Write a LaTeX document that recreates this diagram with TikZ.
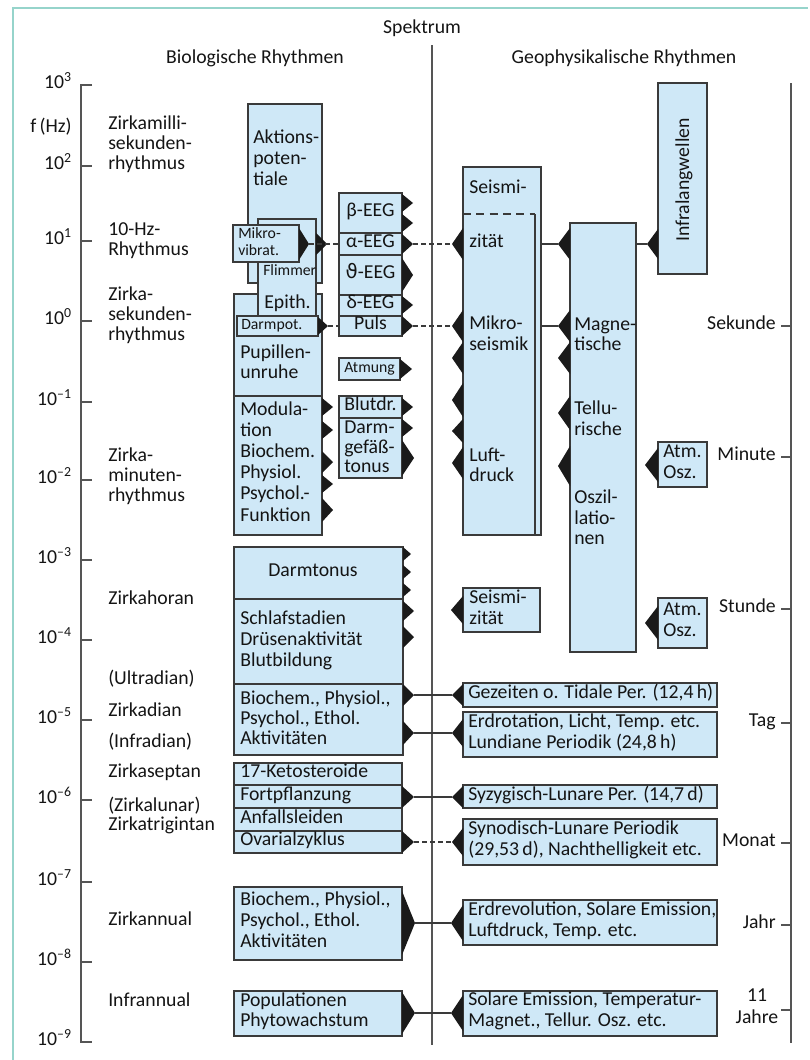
\documentclass[tikz,border=0pt]{standalone}
\usepackage{fontspec}
\setmainfont{Carlito}
\newfontfamily\dejavu{DejaVu Sans}
\usetikzlibrary{fit}
\definecolor{boxfill}{HTML}{CFE8F7}
\definecolor{boxline}{HTML}{3A3A3A}
\definecolor{framec}{HTML}{96D4CB}
\definecolor{axisc}{HTML}{555555}
\definecolor{txt}{HTML}{141414}
\definecolor{tric}{HTML}{1A1A1A}
\tikzset{
  box/.style={draw=boxline, fill=boxfill, line width=1pt, inner sep=0pt},
  lbl/.style={font=\fontsize{14.8}{15.5}\selectfont, text=txt, inner sep=0pt},
  sml/.style={font=\fontsize{11.8}{12.5}\selectfont, text=txt, inner sep=0pt},
  conn/.style={draw=boxline, line width=0.8pt},
  dconn/.style={conn, dash pattern=on 3.5pt off 2.5pt},
  axisline/.style={draw=axisc, line width=1.1pt},
}
\newcommand\bx[5]{\node[box, fit={(#2,#3) (#4,#5)}] (#1) {};}
\newcommand\tri[5]{\fill[tric] (#2,#3) ++(0,#5) -- ++(#4,{-1*(#5)}) -- ++({-1*(#4)},{-1*(#5)}) -- cycle;
  \path (#2,#3) ++(#4,0) coordinate (#1);}
\newcommand\Tx[4]{\node[lbl, anchor=mid west] (#1) at (#2,#3) {#4};}
\newcommand\Ts[4]{\node[sml, anchor=mid west] (#1) at (#2,#3) {#4};}
\begin{document}
\begin{tikzpicture}[x=0.75pt,y=-0.75pt]
\useasboundingbox (0,0) rectangle (810,1060);
\draw[framec, line width=1.5pt] (13,1060) -- (13,8) -- (808,8);

% headings
\node[lbl, anchor=mid] (spek) at (422,30) {Spektrum};
\node[lbl, anchor=mid] (biohead) at (255,60) {Biologische Rhythmen};
\node[lbl, anchor=mid] (geohead) at (624,60) {Geophysikalische Rhythmen};

% axes
\draw[axisline] (92,85) -- (81,85) -- (81,1042) -- (92,1042);
\foreach \y in {166,241,321,402,480,560,640,720,800,882,962} \draw[axisline] (81,\y) -- (92,\y);
\foreach \y/\e in {85/3,166/2,241/1,321/0,402/–1,480/–2,560/–3,640/–4,720/–5,800/–6,882/–7,962/–8,1042/–9}
  \node[lbl, anchor=mid east] (ax\y) at (72,\y) {10\textsuperscript{\e}};
\node[lbl, anchor=mid east] (fhz) at (72,129) {f\,(Hz)};
\draw[axisline] (791,83) -- (791,1043);
\foreach \y in {326,457,609,723,843,925,1010} \draw[axisline] (781,\y) -- (791,\y);
\draw[axisline] (432,45) -- (432,1045);

% left rhythm names
\Tx{r1}{108}{126}{Zirkamilli-}
\Tx{r2}{108}{146}{sekunden-}
\Tx{r3}{108}{166}{rhythmus}
\Tx{r4}{108}{232}{10-Hz-}
\Tx{r5}{108}{252}{Rhythmus}
\Tx{r6}{108}{297}{Zirka-}
\Tx{r7}{108}{317}{sekunden-}
\Tx{r8}{108}{337}{rhythmus}
\Tx{r9}{108}{458}{Zirka-}
\Tx{r10}{108}{478}{minuten-}
\Tx{r11}{108}{498}{rhythmus}
\Tx{r12}{108}{601}{Zirkahoran}
\Tx{r13}{108}{681}{(Ultradian)}
\Tx{r14}{108}{713}{Zirkadian}
\Tx{r15}{108}{744}{(Infradian)}
\Tx{r16}{108}{774}{Zirkaseptan}
\Tx{r17}{108}{808}{(Zirkalunar)}
\Tx{r18}{108}{827}{Zirkatrigintan}
\Tx{r19}{108}{922}{Zirkannual}
\Tx{r20}{108}{1003}{Infrannual}

% right time names
\node[lbl, anchor=mid east] (sek) at (776,326) {Sekunde};
\node[lbl, anchor=mid east] (minu) at (776,457) {Minute};
\node[lbl, anchor=mid east] (stu) at (776,609) {Stunde};
\node[lbl, anchor=mid east] (tag) at (776,723) {Tag};
\node[lbl, anchor=mid east] (mon) at (776,843) {Monat};
\node[lbl, anchor=mid east] (jahr) at (776,925) {Jahr};
\node[lbl, anchor=mid] (elf) at (757,998) {11};
\node[lbl, anchor=mid] (jahre) at (757,1020) {Jahre};

% biological boxes
\bx{akt}{248}{104}{322}{283}
\bx{pup}{234}{294}{322}{396}
\bx{flim}{258}{219}{316}{330}
\bx{darmp}{237}{316}{318}{336}
\bx{mikro}{233}{225}{299}{262}
\bx{mod}{234}{396}{322}{535}
\bx{beta}{339}{193}{402}{233}
\bx{alpha}{339}{233}{402}{255}
\bx{theta}{339}{255}{402}{295}
\bx{delta}{339}{295}{402}{316}
\bx{puls}{339}{316}{402}{336}
\bx{atm}{339}{358}{400}{380}
\bx{blut}{339}{396}{402}{418}
\bx{darmg}{339}{418}{402}{478}
\bx{darmt}{234}{547}{403}{599}
\bx{schlaf}{234}{599}{403}{684}
\bx{bioc}{234}{684}{403}{755}
\bx{keto}{234}{763}{402}{785}
\bx{fort}{234}{785}{402}{808}
\bx{anfall}{234}{808}{402}{831}
\bx{ovar}{234}{831}{402}{853}
\bx{bioa}{234}{887}{402}{960}
\bx{popu}{234}{991}{402}{1036}

% geophysical boxes
\bx{seis}{463}{167}{541}{535}
\draw[boxline, line width=1pt, dash pattern=on 6pt off 4pt] (463,214) -- (535,214);
\draw[boxline, line width=1pt] (535,214) -- (535,535);
\bx{mag}{570}{223}{636}{652}
\bx{infra}{658}{83}{707}{274}
\bx{atmo1}{658}{442}{707}{487}
\bx{atmo2}{658}{598}{707}{648}
\bx{seisk}{463}{588}{540}{632}
\bx{gez}{463}{683}{717}{707}
\bx{erd}{463}{712}{717}{757}
\bx{syz}{463}{785}{717}{808}
\bx{syn}{463}{819}{717}{865}
\bx{rev}{463}{900}{717}{945}
\bx{sol}{463}{991}{717}{1036}

% texts in biological boxes
\Tx{a1}{253}{140}{Aktions-}
\Tx{a2}{253}{161}{poten-}
\Tx{a3}{253}{182}{tiale}
\Ts{mk1}{238}{235}{Mikro-}
\Ts{mk2}{238}{252}{vibrat.}
\Ts{fl1}{263}{272}{Flimmer}
\Tx{fl2}{264}{305}{Epith.}
\Ts{dp1}{241}{326}{Darmpot.}
\Tx{p1}{240}{355}{Pupillen-}
\Tx{p2}{240}{375}{unruhe}
\Tx{m1}{240}{412}{Modula-}
\Tx{m2}{240}{433}{tion}
\Tx{m3}{240}{454}{Biochem.}
\Tx{m4}{240}{475}{Physiol.}
\Tx{m5}{240}{496}{Psychol.-}
\Tx{m6}{240}{518}{Funktion}
\node[lbl, anchor=mid] (e1) at (370.5,213) {β-EEG};
\node[lbl, anchor=mid] (e2) at (370.5,244) {α-EEG};
\node[lbl, anchor=mid] (e3) at (370.5,275) {{\dejavu ϑ}-EEG};
\node[lbl, anchor=mid] (e4) at (370.5,305) {δ-EEG};
\node[lbl, anchor=mid] (e5) at (370.5,326) {Puls};
\node[sml, anchor=mid] (e6) at (369.5,369) {Atmung};
\Tx{b1}{344}{407}{Blutdr.}
\Tx{b2}{344}{430}{Darm-}
\Tx{b3}{344}{450}{gefäß-}
\Tx{b4}{344}{469}{tonus}
\node[lbl, anchor=mid] (dt) at (313,573) {Darmtonus};
\Tx{s1}{240}{621}{Schlafstadien}
\Tx{s2}{240}{642}{Drüsenaktivität}
\Tx{s3}{240}{663}{Blutbildung}
\Tx{c1}{240}{701}{Biochem., Physiol.,}
\Tx{c2}{240}{721}{Psychol., Ethol.}
\Tx{c3}{240}{741}{Aktivitäten}
\Tx{k1}{240}{774}{17-Ketosteroide}
\Tx{k2}{240}{797}{Fortpflanzung}
\Tx{k3}{240}{820}{Anfallsleiden}
\Tx{k4}{240}{842}{Ovarialzyklus}
\Tx{n1}{240}{902}{Biochem., Physiol.,}
\Tx{n2}{240}{923}{Psychol., Ethol.}
\Tx{n3}{240}{944}{Aktivitäten}
\Tx{q1}{240}{1003}{Populationen}
\Tx{q2}{240}{1023}{Phytowachstum}

% texts in geophysical boxes
\Tx{g1}{469}{190}{Seismi-}
\Tx{g2}{469}{244}{zität}
\Tx{g3}{469}{326}{Mikro-}
\Tx{g4}{469}{347}{seismik}
\Tx{g5}{469}{458}{Luft-}
\Tx{g6}{469}{478}{druck}
\Tx{h1}{574}{327}{Magne-}
\Tx{h2}{574}{347}{tische}
\Tx{h3}{574}{411}{Tellu-}
\Tx{h4}{574}{432}{rische}
\Tx{h5}{574}{500}{Oszil-}
\Tx{h6}{574}{521}{latio-}
\Tx{h7}{574}{541}{nen}
\node[lbl, rotate=90, anchor=mid] (tinf) at (686,180) {Infralangwellen};
\Tx{o1}{663}{454}{Atm.}
\Tx{o2}{663}{475}{Osz.}
\Tx{o3}{663}{612}{Atm.}
\Tx{o4}{663}{633}{Osz.}
\Tx{z1}{469}{600}{Seismi-}
\Tx{z2}{469}{621}{zität}
\Tx{w1}{468}{695}{Gezeiten o. Tidale Per. (12,4\,h)}
\Tx{w2}{468}{724}{Erdrotation, Licht, Temp. etc.}
\Tx{w3}{468}{745}{Lundiane Periodik (24,8\,h)}
\Tx{w4}{468}{797}{Syzygisch-Lunare Per. (14,7\,d)}
\Tx{w5}{468}{831}{Synodisch-Lunare Periodik}
\Tx{w6}{468}{852}{(29,53\,d), Nachthelligkeit etc.}
\Tx{w7}{468}{912}{Erdrevolution, Solare Emission,}
\Tx{w8}{468}{933}{Luftdruck, Temp. etc.}
\Tx{w9}{468}{1002}{Solare Emission, Temperatur-}
\Tx{w10}{468}{1023}{Magnet., Tellur. Osz. etc.}

% triangles (biological, pointing right)
\tri{tMik}{299}{244}{10}{16}
\tri{tFlim}{316}{244}{11}{11}
\tri{tDarmp}{318}{326}{10}{9}
\tri{tB1}{402}{203}{11}{9}
\tri{tB2}{402}{223}{11}{9}
\tri{tAlpha}{402}{244}{11}{10}
\tri{tTheta}{402}{275}{11}{17}
\tri{tDelta}{402}{305}{11}{9}
\tri{tPuls}{402}{326}{11}{10}
\tri{tAtm}{400}{369}{12}{10}
\tri{tBlut}{402}{407}{11}{9}
\tri{tDg1}{402}{428}{11}{9}
\tri{tDg2}{402}{458}{12}{18}
\tri{tM1}{322}{407}{11}{9}
\tri{tM2}{322}{430}{11}{9}
\tri{tM3}{322}{462}{11}{11}
\tri{tM4}{322}{484}{11}{9}
\tri{tM5}{322}{510}{11}{12}
\tri{tDt1}{403}{554}{8}{7}
\tri{tDt2}{403}{572}{8}{7}
\tri{tDt3}{403}{590}{8}{7}
\tri{tS1}{403}{611}{11}{10}
\tri{tS2}{403}{637}{11}{11}
\tri{tBio1}{403}{695}{11}{11}
\tri{tBio2}{403}{733}{11}{12}
\tri{tFort}{402}{797}{12}{11}
\tri{tOvar}{402}{842}{12}{11}
\tri{tAnn}{402}{923}{13}{32}
\tri{tPop}{402}{1013}{13}{21}

% triangles (geophysical, pointing left)
\tri{gSeis1}{463}{244}{-11}{16}
\tri{gSeis2}{463}{326}{-11}{16}
\tri{gSeis3}{463}{358}{-11}{16}
\tri{gSeis4}{463}{400}{-11}{17}
\tri{gSeis5}{463}{431}{-11}{12}
\tri{gSeis6}{463}{463}{-11}{16}
\tri{gMag1}{570}{244}{-12}{16}
\tri{gMag2}{570}{326}{-12}{16}
\tri{gMag3}{570}{358}{-12}{16}
\tri{gMag4}{570}{413}{-12}{17}
\tri{gMag5}{570}{466}{-12}{20}
\tri{gInf}{658}{244}{-11}{15}
\tri{gAtm1}{658}{465}{-13}{17}
\tri{gAtm2}{658}{623}{-13}{17}
\tri{gSeisk}{463}{610}{-12}{14}
\tri{gGez}{463}{695}{-11}{11}
\tri{gErd}{463}{733}{-11}{14}
\tri{gSyz}{463}{797}{-11}{11}
\tri{gSyn}{463}{842}{-11}{14}
\tri{gRev}{463}{923}{-12}{18}
\tri{gSol}{463}{1013}{-12}{18}

% connectors
\draw[dconn] (tMik) -- (alpha.west);
\draw[dconn] (tAlpha) -- (gSeis1);
\draw[dconn] (tDarmp) -- (puls.west);
\draw[dconn] (tPuls) -- (gSeis2);
\draw[conn] (seis.east |- gMag1) -- (gMag1);
\draw[conn] (seis.east |- gMag2) -- (gMag2);
\draw[conn] (mag.east |- gInf) -- (gInf);
\draw[conn] (tBio1) -- (gGez);
\draw[conn] (tBio2) -- (gErd);
\draw[conn] (tFort) -- (gSyz);
\draw[dconn] (tOvar) -- (gSyn);
\draw[conn] (tAnn) -- (gRev);
\draw[conn] (tPop) -- (gSol);
\end{tikzpicture}
\end{document}
